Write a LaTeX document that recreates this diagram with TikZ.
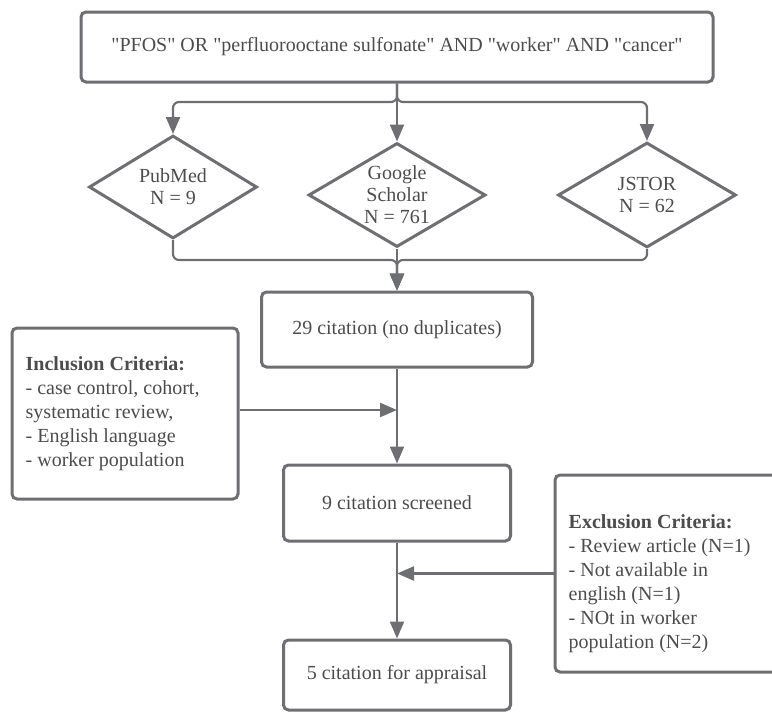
\documentclass[tikz,border=0pt]{standalone}
\usepackage{fontspec}
\setmainfont{Liberation Serif}
\usepackage{xcolor}
\usepackage{tikz}
\usetikzlibrary{shapes.geometric, arrows.meta, positioning, calc}

\definecolor{linegray}{HTML}{6E6F73}
\definecolor{textgray}{HTML}{4C4C4C}
\newcommand{\qt}[1]{\textquotedbl#1\textquotedbl}

\begin{document}
\begin{tikzpicture}[
    x=1pt, y=-1pt,
    every node/.style={text=textgray, font=\fontsize{20}{24}\selectfont},
    box/.style={rectangle, draw=linegray, line width=3pt, rounded corners=5pt},
    source/.style={diamond, draw=linegray, line width=3pt, inner sep=0pt, shape aspect=1.7,
        font=\fontsize{20}{22}\selectfont, align=center},
    crit/.style={inner sep=0pt, align=left, anchor=west},
    flow/.style={draw=linegray, line width=2.2pt, rounded corners=6pt, -{Triangle[length=17pt,width=14pt]}}
]
\useasboundingbox (0,0) rectangle (772,712);

% Search query
\node[box, minimum width=632pt, minimum height=70pt] (query) at (397,47)
    {\qt{PFOS} OR \qt{perfluorooctane sulfonate} AND \qt{worker} AND \qt{cancer}};

% Databases
\node[source, minimum width=168pt, minimum height=103pt] (pubmed) at (173,187) {PubMed\\N = 9};
\node[source, minimum width=177pt, minimum height=104pt] (scholar) at (397,195) {Google\\Scholar\\N = 761};
\node[source, minimum width=178pt, minimum height=105pt] (jstor) at (647,195) {JSTOR\\N = 62};

% Screening steps
\node[box, minimum width=271pt, minimum height=75pt] (dedup) at (397,329.5) {29 citation (no duplicates)};
\node[box, minimum width=227pt, minimum height=76pt] (screened) at (397,503) {9 citation screened};
\node[box, minimum width=227pt, minimum height=70pt] (appraisal) at (397,675) {5 citation for appraisal};

% Criteria
\node[box, minimum width=226pt, minimum height=171pt] (incl) at (125,413.5) {};
\node[crit] (incltext) at ([xshift=15pt]incl.west)
    {\textbf{Inclusion Criteria:}\\- case control, cohort,\\systematic review,\\- English language\\- worker population};
\node[box, minimum width=235pt, minimum height=197pt] (excl) at (672.5,573.5) {};
\node[crit] (excltext) at ([xshift=15pt, yshift=-10pt]excl.west)
    {\textbf{Exclusion Criteria:}\\- Review article (N=1)\\- Not available in\\english (N=1)\\- NOt in worker\\population (N=2)};

% Split and merge
\coordinate (split) at (397,102);
\coordinate (merge) at (397,260);
\draw[flow] (query.south) -- (split) -| (pubmed.north);
\draw[flow] (query.south) -- (split) -| (jstor.north);
\draw[flow] (query.south) -- (scholar.north);
\draw[flow] (pubmed.south) |- (merge) -- (dedup.north);
\draw[flow] (jstor.south) |- (merge) -- (dedup.north);
\draw[flow] (scholar.south) -- (dedup.north);

% Main line
\coordinate (inclhit) at (397,410);
\draw[flow] (dedup.south) -- (screened.north);
\draw[flow] (incl.east |- inclhit) -- (inclhit);
\draw[flow] (screened.south) -- (appraisal.north);
\draw[flow] (excl.west) -- (excl.west -| screened.south);
\end{tikzpicture}
\end{document}
